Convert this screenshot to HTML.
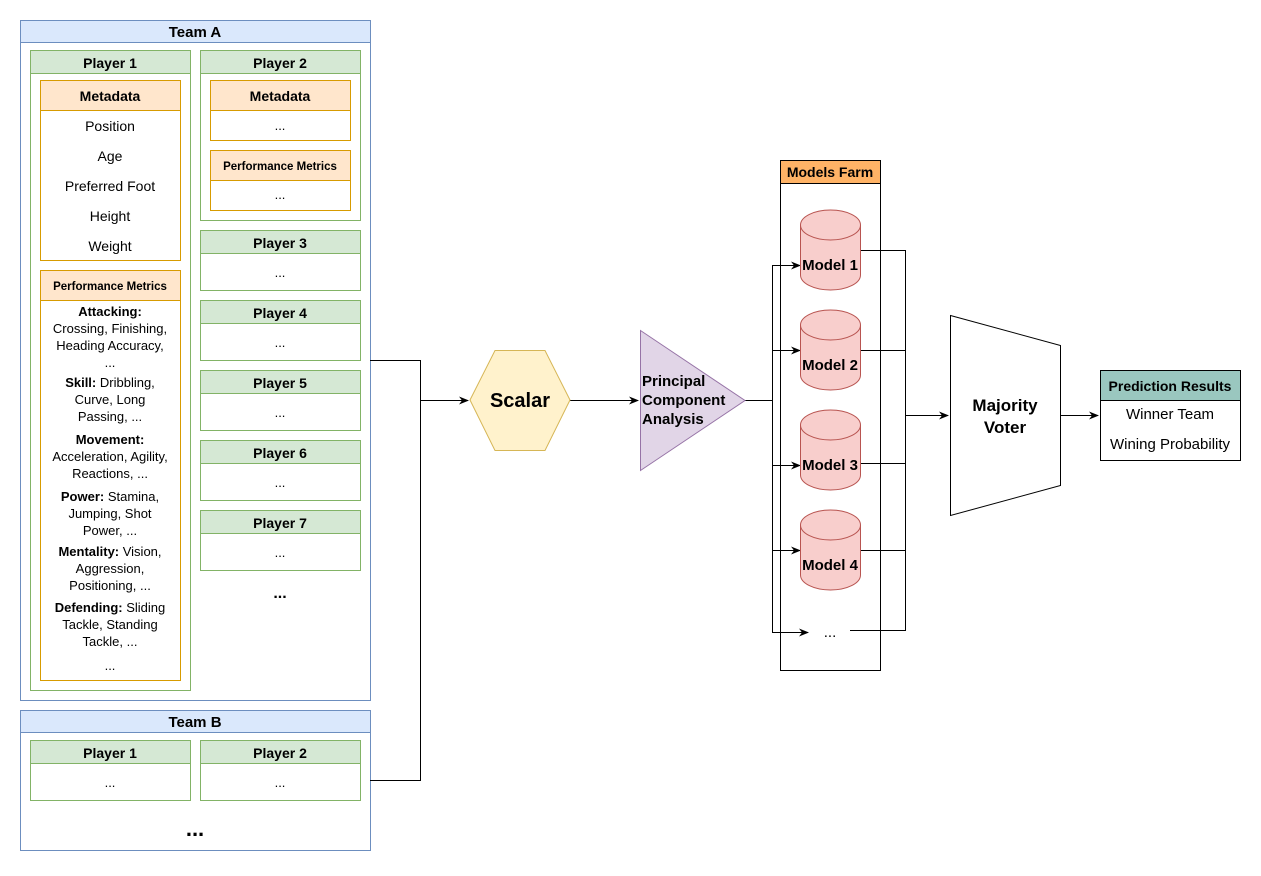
<!DOCTYPE html>
<html><head><meta charset="utf-8"><style>
html,body{margin:0;padding:0;background:#fff;}
svg text{font-family:"Liberation Sans",Arial,sans-serif;fill:#000;}
.b{font-weight:bold;}
</style></head><body>
<svg width="1261" height="871" viewBox="0 0 1261 871" xmlns="http://www.w3.org/2000/svg" font-size="14">
<defs><marker id="a" markerWidth="10" markerHeight="8" refX="9" refY="4" orient="auto" markerUnits="userSpaceOnUse"><path d="M0,0 L10,4 L0,8 L3,4 Z" fill="#000"/></marker></defs>
<g text-anchor="middle">
<rect x="20.5" y="20.5" width="350" height="680" fill="#fff" stroke="#6c8ebf"/>
<rect x="20.5" y="20.5" width="350" height="22" fill="#dae8fc" stroke="#6c8ebf"/>
<text x="195" y="37" class="b" font-size="15">Team A</text>
<rect x="30.5" y="50.5" width="160" height="640" fill="#fff" stroke="#82b366"/>
<rect x="30.5" y="50.5" width="160" height="23" fill="#d5e8d4" stroke="#82b366"/>
<text x="110" y="68" class="b">Player 1</text>
<rect x="40.5" y="80.5" width="140" height="180" fill="#fff" stroke="#d79b00"/>
<rect x="40.5" y="80.5" width="140" height="30" fill="#ffe6cc" stroke="#d79b00"/>
<text x="110" y="101" class="b">Metadata</text>
<text x="110" y="131">Position</text>
<text x="110" y="161">Age</text>
<text x="110" y="191">Preferred Foot</text>
<text x="110" y="221">Height</text>
<text x="110" y="251">Weight</text>
<rect x="40.5" y="270.5" width="140" height="410" fill="#fff" stroke="#d79b00"/>
<rect x="40.5" y="270.5" width="140" height="30" fill="#ffe6cc" stroke="#d79b00"/>
<text x="110" y="290" class="b" font-size="11.5">Performance Metrics</text>
<g font-size="13">
<text x="110" y="316" class="b">Attacking:</text>
<text x="110" y="333">Crossing, Finishing,</text>
<text x="110" y="350">Heading Accuracy,</text>
<text x="110" y="367">...</text>
<text x="110" y="387"><tspan font-weight="bold">Skill:</tspan> Dribbling,</text>
<text x="110" y="404">Curve, Long</text>
<text x="110" y="421">Passing, ...</text>
<text x="110" y="444" class="b">Movement:</text>
<text x="110" y="461">Acceleration, Agility,</text>
<text x="110" y="478">Reactions, ...</text>
<text x="110" y="501"><tspan font-weight="bold">Power:</tspan> Stamina,</text>
<text x="110" y="518">Jumping, Shot</text>
<text x="110" y="535">Power, ...</text>
<text x="110" y="556"><tspan font-weight="bold">Mentality:</tspan> Vision,</text>
<text x="110" y="573">Aggression,</text>
<text x="110" y="590">Positioning, ...</text>
<text x="110" y="612"><tspan font-weight="bold">Defending:</tspan> Sliding</text>
<text x="110" y="629">Tackle, Standing</text>
<text x="110" y="646">Tackle, ...</text>
<text x="110" y="670">...</text>
</g>
<rect x="200.5" y="50.5" width="160" height="170" fill="#fff" stroke="#82b366"/>
<rect x="200.5" y="50.5" width="160" height="23" fill="#d5e8d4" stroke="#82b366"/>
<text x="280" y="68" class="b">Player 2</text>
<rect x="210.5" y="80.5" width="140" height="60" fill="#fff" stroke="#d79b00"/>
<rect x="210.5" y="80.5" width="140" height="30" fill="#ffe6cc" stroke="#d79b00"/>
<text x="280" y="101" class="b">Metadata</text>
<text x="280" y="130" font-size="13">...</text>
<rect x="210.5" y="150.5" width="140" height="60" fill="#fff" stroke="#d79b00"/>
<rect x="210.5" y="150.5" width="140" height="30" fill="#ffe6cc" stroke="#d79b00"/>
<text x="280" y="170" class="b" font-size="11.5">Performance Metrics</text>
<text x="280" y="199" font-size="13">...</text>
<rect x="200.5" y="230.5" width="160" height="60" fill="#fff" stroke="#82b366"/><rect x="200.5" y="230.5" width="160" height="23" fill="#d5e8d4" stroke="#82b366"/><text x="280" y="248" class="b">Player 3</text><text x="280" y="277" font-size="13">...</text>
<rect x="200.5" y="300.5" width="160" height="60" fill="#fff" stroke="#82b366"/><rect x="200.5" y="300.5" width="160" height="23" fill="#d5e8d4" stroke="#82b366"/><text x="280" y="318" class="b">Player 4</text><text x="280" y="347" font-size="13">...</text>
<rect x="200.5" y="370.5" width="160" height="60" fill="#fff" stroke="#82b366"/><rect x="200.5" y="370.5" width="160" height="23" fill="#d5e8d4" stroke="#82b366"/><text x="280" y="388" class="b">Player 5</text><text x="280" y="417" font-size="13">...</text>
<rect x="200.5" y="440.5" width="160" height="60" fill="#fff" stroke="#82b366"/><rect x="200.5" y="440.5" width="160" height="23" fill="#d5e8d4" stroke="#82b366"/><text x="280" y="458" class="b">Player 6</text><text x="280" y="487" font-size="13">...</text>
<rect x="200.5" y="510.5" width="160" height="60" fill="#fff" stroke="#82b366"/><rect x="200.5" y="510.5" width="160" height="23" fill="#d5e8d4" stroke="#82b366"/><text x="280" y="528" class="b">Player 7</text><text x="280" y="557" font-size="13">...</text>
<text x="280" y="598" class="b" font-size="16">...</text>
<rect x="20.5" y="710.5" width="350" height="140" fill="#fff" stroke="#6c8ebf"/>
<rect x="20.5" y="710.5" width="350" height="22" fill="#dae8fc" stroke="#6c8ebf"/>
<text x="195" y="727" class="b" font-size="15">Team B</text>
<rect x="30.5" y="740.5" width="160" height="60" fill="#fff" stroke="#82b366"/><rect x="30.5" y="740.5" width="160" height="23" fill="#d5e8d4" stroke="#82b366"/><text x="110" y="758" class="b">Player 1</text><text x="110" y="787" font-size="13">...</text>
<rect x="200.5" y="740.5" width="160" height="60" fill="#fff" stroke="#82b366"/><rect x="200.5" y="740.5" width="160" height="23" fill="#d5e8d4" stroke="#82b366"/><text x="280" y="758" class="b">Player 2</text><text x="280" y="787" font-size="13">...</text>
<text x="195" y="836" class="b" font-size="22">...</text>
</g>
<g fill="none" stroke="#000" stroke-width="1">
<path d="M370,360.5 H420.5 V780.5 H370"/>
<path d="M420,400.5 H468" marker-end="url(#a)"/>
<path d="M570,400.5 H638" marker-end="url(#a)"/>
<path d="M745,400.5 H772.5"/>
<path d="M772.5,265 V632"/>
<path d="M772,265.5 H800" marker-end="url(#a)"/>
<path d="M772,350.5 H800" marker-end="url(#a)"/>
<path d="M772,465.5 H800" marker-end="url(#a)"/>
<path d="M772,550.5 H800" marker-end="url(#a)"/>
<path d="M772,632.5 H808" marker-end="url(#a)"/>
</g>
<polygon points="470,400 495,350.5 545,350.5 570,400 545,450.5 495,450.5" fill="#fff2cc" stroke="#d6b656"/>
<text x="520" y="407" text-anchor="middle" class="b" font-size="20">Scalar</text>
<polygon points="640.5,330.5 640.5,470.5 745,400.5" fill="#e1d5e7" stroke="#9673a6"/>
<text x="642" y="386" class="b" font-size="15">Principal</text>
<text x="642" y="405" class="b" font-size="15">Component</text>
<text x="642" y="424" class="b" font-size="15">Analysis</text>
<rect x="780.5" y="160.5" width="100" height="510" fill="none" stroke="#000"/>
<rect x="780.5" y="160.5" width="100" height="23" fill="#ffb366" stroke="#000"/>
<text x="830" y="177" text-anchor="middle" class="b">Models Farm</text>
<g fill="none" stroke="#000">
<path d="M860,250.5 H905.5 V630.5 H850"/>
<path d="M860,350.5 H905"/>
<path d="M860,463.5 H905"/>
<path d="M860,550.5 H905"/>
<path d="M905,415.5 H948" marker-end="url(#a)"/>
<path d="M1060,415.5 H1098" marker-end="url(#a)"/>
</g>
<g fill="#f8cecc" stroke="#b85450">
<path d="M800.5,225 A30,15 0 0 1 860.5,225 V275 A30,15 0 0 1 800.5,275 Z"/><path d="M800.5,225 A30,15 0 0 0 860.5,225" fill="none"/>
<path d="M800.5,325 A30,15 0 0 1 860.5,325 V375 A30,15 0 0 1 800.5,375 Z"/><path d="M800.5,325 A30,15 0 0 0 860.5,325" fill="none"/>
<path d="M800.5,425 A30,15 0 0 1 860.5,425 V475 A30,15 0 0 1 800.5,475 Z"/><path d="M800.5,425 A30,15 0 0 0 860.5,425" fill="none"/>
<path d="M800.5,525 A30,15 0 0 1 860.5,525 V575 A30,15 0 0 1 800.5,575 Z"/><path d="M800.5,525 A30,15 0 0 0 860.5,525" fill="none"/>
</g>
<g text-anchor="middle" font-size="15">
<text x="830" y="270" class="b">Model 1</text>
<text x="830" y="370" class="b">Model 2</text>
<text x="830" y="470" class="b">Model 3</text>
<text x="830" y="570" class="b">Model 4</text>
<text x="830" y="637">...</text>
</g>
<polygon points="950.5,315.5 1060.5,345.5 1060.5,485.5 950.5,515.5" fill="#fff" stroke="#000"/>
<text x="1005" y="411" text-anchor="middle" class="b" font-size="17">Majority</text>
<text x="1005" y="433" text-anchor="middle" class="b" font-size="17">Voter</text>
<rect x="1100.5" y="370.5" width="140" height="90" fill="#fff" stroke="#000"/>
<rect x="1100.5" y="370.5" width="140" height="30" fill="#9ac7bf" stroke="#000"/>
<text x="1170" y="391" text-anchor="middle" class="b">Prediction Results</text>
<text x="1170" y="419" text-anchor="middle" font-size="15">Winner Team</text>
<text x="1170" y="449" text-anchor="middle" font-size="15">Wining Probability</text>
</svg>
</body></html>
